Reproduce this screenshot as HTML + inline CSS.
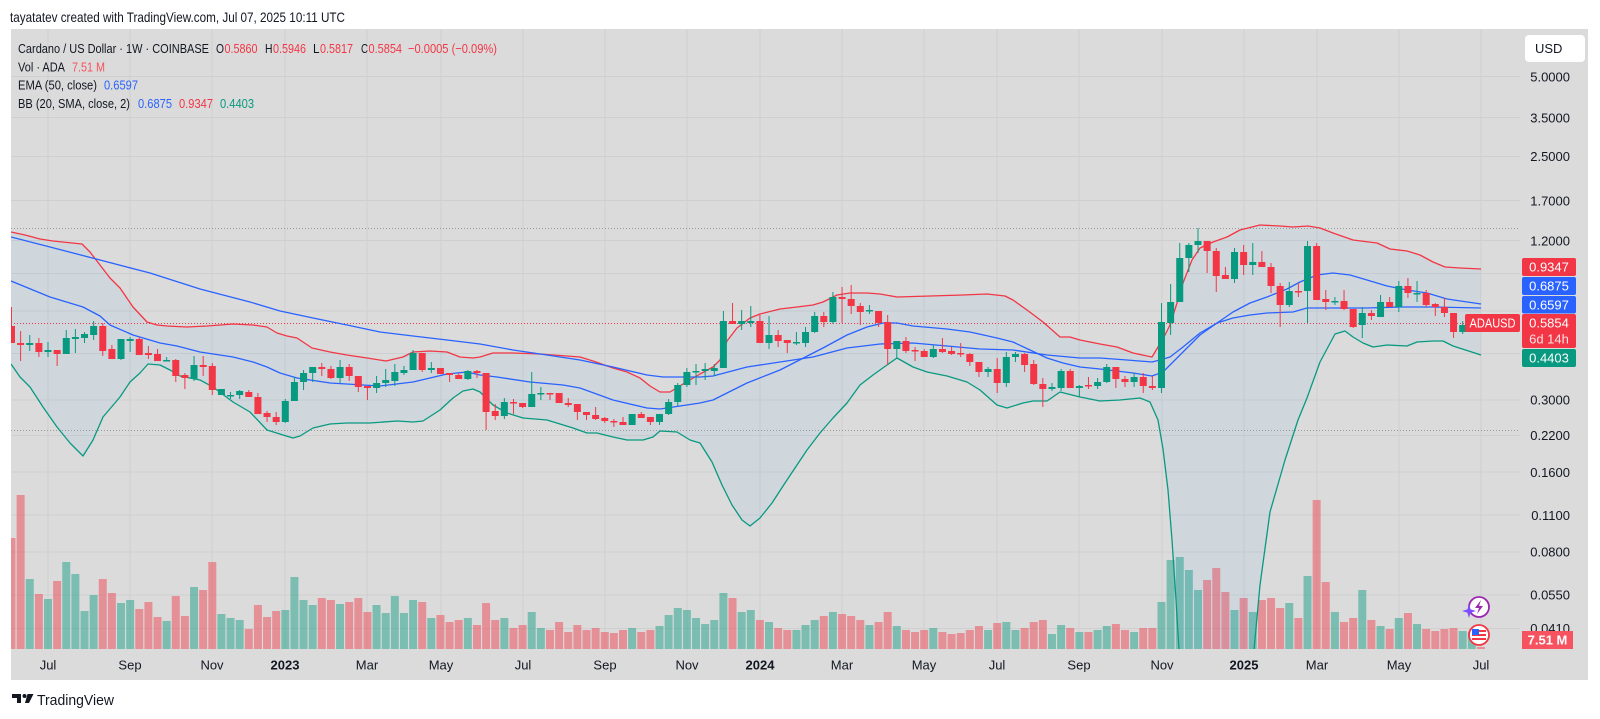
<!DOCTYPE html>
<html><head><meta charset="utf-8"><style>
html,body{margin:0;padding:0;background:#fff;overflow:hidden;width:1600px;height:719px}
svg{display:block}
text{font-family:"Liberation Sans",Arial,sans-serif}
</style></head><body>
<svg width="1600" height="719" viewBox="0 0 1600 719" xmlns="http://www.w3.org/2000/svg">
<defs><clipPath id="cp"><rect x="11" y="29" width="1509" height="620"/></clipPath></defs>
<rect width="1600" height="719" fill="#fff"/>
<rect x="11" y="29" width="1577" height="651" fill="#dbdbdb"/>
<g stroke="#cfcfcf" stroke-width="1">
<path d="M48 29V649M130 29V649M212 29V649M285 29V649M367 29V649M441 29V649M523 29V649M605 29V649M687 29V649M760 29V649M842 29V649M924 29V649M997 29V649M1079 29V649M1162 29V649M1244 29V649M1317 29V649M1399 29V649M1481 29V649"/>
<path d="M11 76.5H1520M11 117.5H1520M11 156.5H1520M11 200.5H1520M11 240.5H1520M11 273.5H1520M11 311H1520M11 353.5H1520M11 400H1520M11 435.5H1520M11 472H1520M11 515H1520M11 552H1520M11 595H1520M11 628.5H1520"/>
</g>
<g clip-path="url(#cp)">
<g transform="matrix(9.127 0 0 1 48 0)" fill="none" stroke-linecap="butt">
<path vector-effect="non-scaling-stroke" stroke="#089981" stroke-opacity="0.45" stroke-width="8" d="M-2 579V649M0 599V649M2 562V649M3 574V649M4 611V649M5 595V649M8 603V649M9 600V649M13 621V649M16 587V649M19 614V649M20 618V649M21 620V649M26 610V649M27 577V649M28 600V649M29 605V649M32 604V649M36 605V649M37 613V649M38 596V649M39 613V649M40 600V649M42 618V649M46 618V649M50 618V649M53 612V649M54 628V649M64 628V649M67 626V649M68 615V649M69 608V649M70 610V649M71 618V649M72 624V649M73 620V649M74 593V649M76 612V649M77 610V649M79 622V649M82 630V649M83 625V649M84 620V649M86 612V649M90 625V649M93 626V649M97 628V649M103 630V649M105 622V649M106 630V649M110 634V649M111 625V649M113 632V649M115 630V649M116 626V649M119 632V649M122 602V649M123 560V649M124 557V649M125 570V649M126 590V649M130 610V649M132 612V649M136 603V649M138 576V649M141 612V649M144 590V649M146 626V649M148 618V649M150 624V649M155 631V649M156 632V649"/>
<path vector-effect="non-scaling-stroke" stroke="#f23645" stroke-opacity="0.45" stroke-width="8" d="M-4 538V649M-3 495V649M-1 594V649M1 581V649M6 579V649M7 593V649M10 609V649M11 602V649M12 617V649M14 596V649M15 616V649M17 590V649M18 562V649M22 629V649M23 605V649M24 617V649M25 611V649M30 598V649M31 600V649M33 602V649M34 598V649M35 612V649M41 602V649M43 615V649M44 622V649M45 620V649M47 625V649M48 603V649M49 620V649M51 628V649M52 625V649M55 630V649M56 622V649M57 632V649M58 625V649M59 630V649M60 628V649M61 632V649M62 633V649M63 630V649M65 632V649M66 630V649M75 598V649M78 620V649M80 628V649M81 630V649M85 616V649M87 614V649M88 616V649M89 620V649M91 622V649M92 612V649M94 630V649M95 632V649M96 630V649M98 632V649M99 634V649M100 633V649M101 630V649M102 626V649M104 623V649M107 628V649M108 622V649M109 620V649M112 628V649M114 632V649M117 624V649M118 630V649M120 628V649M121 628V649M127 580V649M128 568V649M129 592V649M131 598V649M133 600V649M134 598V649M135 608V649M137 618V649M139 500V649M140 582V649M142 622V649M143 618V649M145 620V649M147 629V649M149 613V649M151 629V649M152 631V649M153 629V649M154 628V649M157 647V649"/>
</g>
<polygon fill="#2196f3" fill-opacity="0.06" points="11,232 25,235 40,239 53,241 82,244 90,252 100,265 110,278 120,288 133,307 147,322 157,325 167,326 187,327 207,326 233,324 253,325 267,327 277,333 287,336 297,338 312,348 330,352 347,355 367,358 386,361 403,357 413,352 430,351 447,352 460,357 473,358 480,357 493,353 513,353 540,354 580,357 593,361 613,368 627,372 640,378 650,386 660,392 670,392 683,384 700,374 713,367 720,360 727,341 737,328 750,318 760,314 780,309 797,307 813,305 823,302 837,295 850,293 867,293 880,294 897,297 930,296 963,295 987,294 1005,296 1013,300 1027,310 1043,322 1060,337 1070,337 1080,340 1100,344 1117,347 1133,353 1152,357 1158,347 1165,335 1170,325 1177,303 1183,283 1192,260 1200,248 1213,242 1227,237 1240,230 1260,225 1280,226 1293,227 1308,226 1320,228 1333,233 1353,240 1377,243 1390,249 1407,251 1420,255 1433,262 1445,267 1460,268 1481,269 1481,355 1453,346 1443,341 1433,341 1417,342 1407,346 1387,345 1373,347 1363,343 1353,337 1345,331 1335,334 1320,362 1307,398 1298,420 1285,460 1270,512 1260,585 1254,650 1250,730 1182,730 1179,650 1176,600 1172,540 1168,490 1163,449 1158,420 1150,402 1140,398 1120,400 1100,401 1080,397 1060,392 1047,401 1033,401 1023,403 1007,408 997,405 980,390 967,382 947,376 927,372 913,367 897,358 887,365 873,375 860,385 847,403 833,418 820,433 807,450 797,465 785,483 772,503 760,518 750,526 742,520 732,505 722,485 712,462 700,443 690,440 677,432 660,431 653,437 643,440 627,440 613,437 597,433 587,433 573,428 547,420 523,418 507,413 493,405 480,392 473,389 463,391 453,398 440,410 423,421 413,422 397,421 370,423 347,423 330,424 313,428 300,436 293,438 283,435 267,430 250,412 233,402 213,387 200,380 190,378 180,376 170,370 160,365 148,364 140,373 130,382 120,397 103,417 93,440 83,456 70,443 57,427 43,407 30,387 20,377 11,364"/>
<path d="M11 228.5H1520M11 430.5H1520" stroke="#9a9a9a" stroke-width="1" stroke-dasharray="1 2"/>
<path d="M11 323.5H1465" stroke="#f23645" stroke-width="1" stroke-dasharray="1 2"/>
<g fill="none" stroke-width="1.3" stroke-linejoin="round">
<polyline stroke="#f23645" points="11,232 25,235 40,239 53,241 82,244 90,252 100,265 110,278 120,288 133,307 147,322 157,325 167,326 187,327 207,326 233,324 253,325 267,327 277,333 287,336 297,338 312,348 330,352 347,355 367,358 386,361 403,357 413,352 430,351 447,352 460,357 473,358 480,357 493,353 513,353 540,354 580,357 593,361 613,368 627,372 640,378 650,386 660,392 670,392 683,384 700,374 713,367 720,360 727,341 737,328 750,318 760,314 780,309 797,307 813,305 823,302 837,295 850,293 867,293 880,294 897,297 930,296 963,295 987,294 1005,296 1013,300 1027,310 1043,322 1060,337 1070,337 1080,340 1100,344 1117,347 1133,353 1152,357 1158,347 1165,335 1170,325 1177,303 1183,283 1192,260 1200,248 1213,242 1227,237 1240,230 1260,225 1280,226 1293,227 1308,226 1320,228 1333,233 1353,240 1377,243 1390,249 1407,251 1420,255 1433,262 1445,267 1460,268 1481,269"/>
<polyline stroke="#2962ff" points="11,281 50,297 83,307 100,316 110,325 133,335 160,343 177,346 200,352 233,357 253,362 267,367 280,373 297,378 330,383 363,385 380,386 413,382 447,374 467,372 480,375 497,377 530,382 563,385 580,388 613,400 647,408 660,409 680,406 700,403 713,400 747,383 780,370 823,348 847,335 867,327 883,323 897,323 913,326 947,329 970,332 997,338 1013,342 1030,350 1047,358 1063,363 1080,367 1100,369 1133,373 1152,376 1163,372 1173,362 1187,348 1200,335 1217,323 1233,312 1250,303 1267,297 1287,289 1300,282 1317,275 1333,273 1350,275 1367,280 1387,286 1407,290 1427,293 1447,299 1481,304"/>
<polyline stroke="#2962ff" points="11,237 50,247 100,260 150,273 200,289 250,302 280,311 313,318 347,325 380,332 413,336 447,340 480,344 513,350 547,355 580,360 613,367 647,375 663,377 700,377 713,376 747,367 780,362 813,357 847,348 880,344 913,343 947,346 980,349 1013,350 1047,355 1080,358 1100,358 1127,360 1152,362 1160,360 1170,357 1183,347 1200,333 1217,323 1233,318 1250,315 1267,313 1293,312 1307,308 1333,308 1367,308 1400,307 1433,307 1481,308"/>
<polyline stroke="#089981" points="11,364 20,377 30,387 43,407 57,427 70,443 83,456 93,440 103,417 120,397 130,382 140,373 148,364 160,365 170,370 180,376 190,378 200,380 213,387 233,402 250,412 267,430 283,435 293,438 300,436 313,428 330,424 347,423 370,423 397,421 413,422 423,421 440,410 453,398 463,391 473,389 480,392 493,405 507,413 523,418 547,420 573,428 587,433 597,433 613,437 627,440 643,440 653,437 660,431 677,432 690,440 700,443 712,462 722,485 732,505 742,520 750,526 760,518 772,503 785,483 797,465 807,450 820,433 833,418 847,403 860,385 873,375 887,365 897,358 913,367 927,372 947,376 967,382 980,390 997,405 1007,408 1023,403 1033,401 1047,401 1060,392 1080,397 1100,401 1120,400 1140,398 1150,402 1158,420 1163,449 1168,490 1172,540 1176,600 1179,650 1182,730 1250,730 1254,650 1260,585 1270,512 1285,460 1298,420 1307,398 1320,362 1335,334 1345,331 1353,337 1363,343 1373,347 1387,345 1407,346 1417,342 1433,341 1443,341 1453,346 1481,355"/>
</g>
<g transform="matrix(9.127 0 0 1 48 0)" fill="none" stroke-linecap="butt">
<path vector-effect="non-scaling-stroke" stroke="#089981" stroke-width="1" d="M-2 335V351M0 342V357M2 330V354M3 329V353M4 332V343M5 321V340M8 339V360M9 337V352M13 357V361M16 356V381M19 389V395M20 392V399M21 390V399M26 399V423M27 377V401M28 370V390M29 367V382M32 360V383M36 376V393M37 369V387M38 364V386M39 366V375M40 350V370M42 362V373M46 370V380M50 398V419M53 372V407M54 387V400M64 414V425M67 414V425M68 399V415M69 383V406M70 368V387M71 364V385M72 363V380M73 364V376M74 311V368M76 310V330M77 306V327M79 316V349M82 332V345M83 327V347M84 312V333M86 292V324M90 305V314M93 341V359M97 345V358M103 367V377M105 352V387M106 352V362M110 383V391M111 369V391M113 385V397M115 378V389M116 364V383M119 373V387M122 303V393M123 284V335M124 243V302M125 243V272M126 228V253M130 248V283M132 243V275M136 282V307M138 241V323M141 297V305M144 307V338M146 295V317M148 281V312M150 281V302M155 321V334"/>
<path vector-effect="non-scaling-stroke" stroke="#089981" stroke-width="7" d="M-2 343V345M0 350V352M2 338V354M3 337V339M4 334V338M5 326V335M8 339V359M9 339V341M13 360V361.5M16 365V379M19 389V395M20 395V396.5M21 391V395M26 401V422M27 382V401M28 373V382M29 367V373M32 367V378M36 383V388M37 380V383M38 372V381M39 370V373M40 353V370M42 368V370M46 371V379M50 402V416M53 394V407M54 393V394.5M64 414V425M67 414V422M68 402V414M69 385V402M70 372V385M71 371V372.5M72 369V371M73 368V371M74 321V368M76 321V324M77 321V323M79 335V343M82 342V343.5M83 332V343M84 316V332M86 297V322M90 310V311.5M93 341V349M97 349V357M103 369V372M105 357V383M106 354V357M110 387V389M111 371V388M113 386V388M115 382V386M116 367V382M119 377V382M122 322V388M123 302V323M124 258V302M125 245V258M126 241V245M130 252V279M132 262V265M136 291V305M138 246V291M141 301V302.5M144 313V325M146 302V317M148 286V307M150 293V294.5M155 325V332"/>
<path vector-effect="non-scaling-stroke" stroke="#f23645" stroke-width="1" d="M-4 307V343M-3 331V361M-1 338V357M1 350V366M6 323V356M7 345V359M10 337V355M11 346V359M12 349V361M14 359V382M15 373V389M17 356V376M18 363V395M22 390V397M23 393V414M24 411V422M25 412V425M30 363V376M31 366V379M33 364V381M34 376V392M35 386V400M41 353V372M43 368V374M44 373V382M45 373V379M47 370V378M48 373V430M49 404V420M51 399V414M52 403V408M55 393V400M56 393V403M57 398V407M58 404V420M59 412V420M60 407V420M61 417V423M62 419V427M63 417V425M65 412V418M66 417V425M75 303V324M78 315V343M80 330V347M81 340V353M85 312V327M87 287V323M88 285V314M89 303V325M91 311V327M92 315V365M94 337V353M95 347V361M96 349V357M98 338V353M99 347V355M100 343V357M101 353V366M102 362V377M104 358V393M107 353V372M108 360V385M109 378V407M112 369V388M114 377V389M117 367V388M118 376V387M120 373V393M121 376V390M127 241V273M128 248V292M129 267V279M131 245V275M133 251V267M134 263V293M135 283V327M137 283V297M139 243V300M140 290V310M142 290V310M143 309V328M145 310V320M147 297V307M149 278V298M151 290V307M152 303V316M153 298V317M154 313V338"/>
<path vector-effect="non-scaling-stroke" stroke="#f23645" stroke-width="7" d="M-4 326V343M-3 343V345M-1 343V352M1 350V354M6 326V351M7 349V359M10 339V355M11 353V355M12 354V361M14 360V376M15 375V378M17 365V367M18 366V390M22 392V397M23 397V414M24 413V417M25 417V422M30 367V369M31 369V378M33 367V376M34 376V387M35 386V388M41 353V370M43 368V374M44 373V375M45 375V379M47 371V373M48 373V412M49 411V416M51 402V403.5M52 403V407M55 393V394.5M56 393V403M57 403V405M58 404V412M59 412V415M60 415V419M61 418V421M62 421V422.5M63 422V425M65 414V418M66 417V422M75 321V324M78 321V343M80 335V341M81 340V343M85 316V322M87 297V299M88 299V306M89 306V312M91 311V323M92 322V349M94 341V351M95 350V351.5M96 351V357M98 349V352M99 351V354M100 353V354.5M101 354V362M102 362V372M104 369V383M107 354V365M108 364V384M109 384V389M112 371V388M114 385V386.5M117 367V379M118 379V382M120 377V386M121 386V388M127 241V251M128 251V276M129 275V279M131 252V265M133 262V267M134 267V286M135 286V305M137 291V292.5M139 246V300M140 299V302M142 301V309M143 309V327M145 313V316M147 302V307M149 286V293M151 293V305M152 304V307M153 307V313M154 313V332"/>
</g>
</g>
<!-- price axis labels -->
<g font-size="13" fill="#131722" text-anchor="end">
<text x="1570" y="81.3">5.0000</text>
<text x="1570" y="122.3">3.5000</text>
<text x="1570" y="160.9">2.5000</text>
<text x="1570" y="205.3">1.7000</text>
<text x="1570" y="245.3">1.2000</text>
<text x="1570" y="404.6">0.3000</text>
<text x="1570" y="440.2">0.2200</text>
<text x="1570" y="476.8">0.1600</text>
<text x="1570" y="519.8">0.1100</text>
<text x="1570" y="556.4">0.0800</text>
<text x="1570" y="599.5">0.0550</text>
<text x="1570" y="633.2">0.0410</text>
</g>
<rect x="1525" y="35" width="60" height="27" rx="4" fill="#fff"/>
<text x="1535" y="53" font-size="13" fill="#131722">USD</text>
<!-- price boxes -->
<rect x="1522" y="258" width="54" height="18" rx="2" fill="#f23645"/>
<rect x="1522" y="277" width="54" height="18" rx="2" fill="#2962ff"/>
<rect x="1522" y="296" width="54" height="17.5" rx="2" fill="#2962ff"/>
<rect x="1522" y="314" width="54" height="34" rx="2" fill="#f23645"/>
<rect x="1522" y="349" width="54" height="18" rx="2" fill="#089981"/>
<rect x="1465" y="314" width="55" height="18" rx="2" fill="#f23645"/>
<g font-size="13" fill="#fff" text-anchor="middle">
<text x="1549" y="271.6">0.9347</text>
<text x="1549" y="290.6">0.6875</text>
<text x="1549" y="309.4">0.6597</text>
<text x="1549" y="327.6">0.5854</text>
<text x="1549" y="343.5" fill-opacity="0.85">6d 14h</text>
<text x="1549" y="362.6">0.4403</text>
<text x="1492.5" y="327.6" textLength="46" lengthAdjust="spacingAndGlyphs">ADAUSD</text>
</g>
<rect x="1522" y="631" width="51" height="18" fill="#f7525f"/>
<text x="1547.5" y="644.6" font-size="13" fill="#fff" text-anchor="middle" font-weight="bold">7.51 M</text>
<!-- icons -->
<circle cx="1479" cy="607" r="10" fill="#fff" stroke="#9c27b0" stroke-width="1.8"/>
<path d="M1481 600 L1475 608 L1479 608 L1477 614 L1483 606 L1479 606 Z" fill="#9c27b0"/>
<path d="M1469 604 L1470.6 609.4 L1476 611 L1470.6 612.6 L1469 618 L1467.4 612.6 L1462 611 L1467.4 609.4 Z" fill="#7c4dff"/>
<circle cx="1479" cy="635" r="10" fill="#fff" stroke="#f23645" stroke-width="1.8"/>
<rect x="1472" y="630" width="14" height="2" fill="#f23645"/>
<rect x="1472" y="634" width="14" height="2" fill="#f23645"/>
<rect x="1472" y="638" width="14" height="2" fill="#f23645"/>
<rect x="1472" y="629" width="7" height="6" fill="#2962ff"/>
<!-- time axis -->
<g font-size="13" fill="#131722" text-anchor="middle">
<text x="48" y="669.5">Jul</text>
<text x="130" y="669.5">Sep</text>
<text x="212" y="669.5">Nov</text>
<text x="285" y="669.5" font-weight="bold">2023</text>
<text x="367" y="669.5">Mar</text>
<text x="441" y="669.5">May</text>
<text x="523" y="669.5">Jul</text>
<text x="605" y="669.5">Sep</text>
<text x="687" y="669.5">Nov</text>
<text x="760" y="669.5" font-weight="bold">2024</text>
<text x="842" y="669.5">Mar</text>
<text x="924" y="669.5">May</text>
<text x="997" y="669.5">Jul</text>
<text x="1079" y="669.5">Sep</text>
<text x="1162" y="669.5">Nov</text>
<text x="1244" y="669.5" font-weight="bold">2025</text>
<text x="1317" y="669.5">Mar</text>
<text x="1399" y="669.5">May</text>
<text x="1481" y="669.5">Jul</text>
</g>
<!-- legend -->
<g font-size="13" fill="#131722">
<text x="18" y="53" textLength="191" lengthAdjust="spacingAndGlyphs">Cardano / US Dollar · 1W · COINBASE</text>
<text x="216" y="53" textLength="8" lengthAdjust="spacingAndGlyphs">O</text><text x="224.5" y="53" fill="#f23645" textLength="33" lengthAdjust="spacingAndGlyphs">0.5860</text>
<text x="265" y="53" textLength="7.5" lengthAdjust="spacingAndGlyphs">H</text><text x="273" y="53" fill="#f23645" textLength="33" lengthAdjust="spacingAndGlyphs">0.5946</text>
<text x="313" y="53" textLength="6.5" lengthAdjust="spacingAndGlyphs">L</text><text x="320" y="53" fill="#f23645" textLength="33" lengthAdjust="spacingAndGlyphs">0.5817</text>
<text x="361" y="53" textLength="7" lengthAdjust="spacingAndGlyphs">C</text><text x="368.5" y="53" fill="#f23645" textLength="33.5" lengthAdjust="spacingAndGlyphs">0.5854</text>
<text x="408" y="53" fill="#f23645" textLength="89" lengthAdjust="spacingAndGlyphs">−0.0005 (−0.09%)</text>
<text x="18" y="71.5" textLength="47" lengthAdjust="spacingAndGlyphs">Vol · ADA</text>
<text x="72" y="71.5" fill="#f7525f" textLength="33" lengthAdjust="spacingAndGlyphs">7.51 M</text>
<text x="18" y="89.7" textLength="79" lengthAdjust="spacingAndGlyphs">EMA (50, close)</text>
<text x="104" y="89.7" fill="#2962ff" textLength="34" lengthAdjust="spacingAndGlyphs">0.6597</text>
<text x="18" y="108" textLength="112" lengthAdjust="spacingAndGlyphs">BB (20, SMA, close, 2)</text>
<text x="138" y="108" fill="#2962ff" textLength="34" lengthAdjust="spacingAndGlyphs">0.6875</text>
<text x="179" y="108" fill="#f23645" textLength="34" lengthAdjust="spacingAndGlyphs">0.9347</text>
<text x="220" y="108" fill="#089981" textLength="34" lengthAdjust="spacingAndGlyphs">0.4403</text>
</g>
<text x="10" y="22" font-size="14" fill="#131722" textLength="335" lengthAdjust="spacingAndGlyphs">tayatatev created with TradingView.com, Jul 07, 2025 10:11 UTC</text>
<!-- TradingView logo -->
<path d="M12 694H21V703H17V698H12Z" fill="#131722"/>
<circle cx="24.5" cy="696" r="2" fill="#131722"/>
<path d="M27.5 694H33.5L29 703H25Z" fill="#131722"/>
<text x="37" y="705" font-size="15" fill="#131722" textLength="77" lengthAdjust="spacingAndGlyphs">TradingView</text>
</svg>
</body></html>
